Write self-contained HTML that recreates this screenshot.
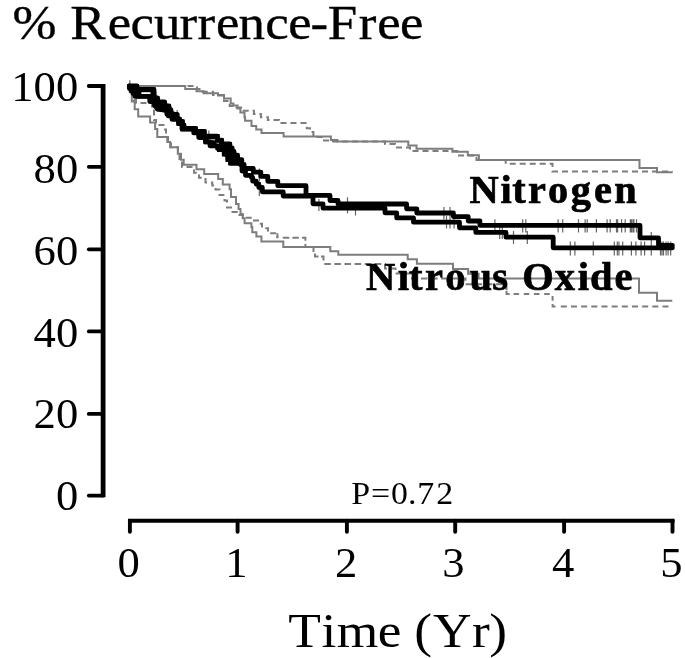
<!DOCTYPE html>
<html><head><meta charset="utf-8"><style>
html,body{margin:0;padding:0;background:#fff;}
svg{filter:grayscale(100%);}
body{width:685px;height:658px;overflow:hidden;}
svg{display:block;}
text{font-family:"Liberation Serif",serif;fill:#000;}
</style></head><body>
<svg width="685" height="658" viewBox="0 0 685 658">
<!-- title -->
<text transform="scale(1.0789,1)" x="11.57 65.19 99.83 120.89 142.63 166.47 182.97 200.12 220.98 245.88 267.18 287.76 303.86 332.47 349.62 370.75" y="39.0" font-size="49" stroke="#000" stroke-width="0.35">%Recurrence-Free</text>
<!-- y labels -->
<g font-size="42.5" text-anchor="end" transform="translate(78.2,0) scale(1.05,1)">
<text x="0" y="100.7">100</text>
<text x="0" y="182.6">80</text>
<text x="0" y="265.2">60</text>
<text x="0" y="346.8">40</text>
<text x="0" y="428.5">20</text>
<text x="0" y="510.4">0</text>
</g>
<!-- x labels -->
<g font-size="42.5" text-anchor="middle">
<text transform="translate(128.6,0) scale(1.05,1)" x="0" y="577.4">0</text>
<text transform="translate(236.5,0) scale(1.05,1)" x="0" y="577.4">1</text>
<text transform="translate(346.2,0) scale(1.05,1)" x="0" y="577.4">2</text>
<text transform="translate(453.5,0) scale(1.05,1)" x="0" y="577.4">3</text>
<text transform="translate(563.2,0) scale(1.05,1)" x="0" y="577.4">4</text>
<text transform="translate(671.4,0) scale(1.05,1)" x="0" y="577.4">5</text>
</g>
<text transform="scale(1.0900,1)" x="264.54 294.88 308.98 346.54 380.08 397.28 432.94 448.87" y="647.0" font-size="49">Time(Yr)</text>
<text transform="scale(1.0927,1)" x="321.39 339.52 357.87 373.46 381.83 399.27" y="504" font-size="31">P=0.72</text>
<!-- axes -->
<g stroke="#000" fill="none">
<path d="M103.1,84.1 V497.3" stroke-width="4.8"/>
<path d="M88.8,86 H103" stroke-width="3.8" stroke-linecap="round"/>
<path d="M88.8,166.8 H103" stroke-width="3.8" stroke-linecap="round"/>
<path d="M88.8,249.3 H103" stroke-width="3.8" stroke-linecap="round"/>
<path d="M88.8,331.4 H103" stroke-width="3.8" stroke-linecap="round"/>
<path d="M88.8,413.9 H103" stroke-width="3.8" stroke-linecap="round"/>
<path d="M88.8,495.6 H103" stroke-width="3.8" stroke-linecap="round"/>
<path d="M128,520.75 H674.6" stroke-width="4.1"/>
<path d="M129.9,520.8 V531.8" stroke-width="3.9" stroke-linecap="round"/>
<path d="M237.6,520.8 V531.8" stroke-width="3.9" stroke-linecap="round"/>
<path d="M346.9,520.8 V531.8" stroke-width="3.9" stroke-linecap="round"/>
<path d="M455.2,520.8 V531.8" stroke-width="3.9" stroke-linecap="round"/>
<path d="M564.1,520.8 V531.8" stroke-width="3.9" stroke-linecap="round"/>
<path d="M672.5,520.8 V531.8" stroke-width="3.9" stroke-linecap="round"/>
</g>
<!-- gray CIs -->
<g stroke="#7d7d7d" stroke-width="2" fill="none">
<path id="gus" d="M127.5,86 H185.2 V89 H196.5 V91.2 H203.6 V93.3 H218 V95.5 H224 V98.4 H230.7 V103.5 H233.4 V105.5 H237.5 V108.4 H240.4 V112.5 H244.5 V117.2 H245.1 V120.7 H251.5 V126 H256.2 V129.5 H261.5 V133 H283.6 V136.6 H330.9 V139.9 H337.4 V141.4 H408.3 V145.5 H416.5 V148.7 H452.4 V151.7 H467.8 V155.2 H478.9 V159.9 H639.5 V168 H657 V172.3 H672.5"/>
<path id="gls" d="M127.5,86 H129.5 V90 H131.8 V101.5 H134.7 V109.3 H138.2 V116.4 H150.1 V122.4 H155.1 V129.1 H157.3 V136.9 H167.3 V141.9 H170.1 V147.3 H177.8 V153.7 H181 V159.7 H183.7 V164.7 H196.5 V169.2 H204.2 V174.1 H218.2 V179.1 H222.8 V184.6 H229.6 V189.2 H231 V196.9 H236 V204 H238.6 V209.1 H240.5 V214.1 H242.7 V218.2 H244.6 V223.2 H251.4 V226.9 H252.3 V232.3 H256.4 V236.4 H261.4 V241.5 H283.3 V246.9 H330.3 V251.3 H338.3 V254.8 H407.7 V259.2 H416.9 V263.8 H453 V269 H468.1 V273.8 H478.6 V278.4 H639 V292.8 H657 V300.8 H672.3"/>
</g>
<g stroke="#7d7d7d" stroke-width="2" fill="none" stroke-dasharray="6 4">
<path id="gud" d="M127.5,86 H197 V89 H202.6 V91.7 H213 V95 H224 V101 H229.7 V106 H236.3 V107.4 H242.4 V110.8 H253.9 V114 H260.9 V117.2 H267.9 V120 H279 V123 H306.8 V128.2 H310 V131.9 H313.4 V137 H323 V140.5 H332 V141.4 H385 V144 H395 V147.5 H410 V151 H457 V155.5 H476.5 V159.9 H505.7 V163.8 H552.5 V171.5 H672.5"/>
<path id="gld" d="M127.5,86 H129 V92 H133.6 V100 H136 V103 H152 V110.5 H154 V120 H156 V125 H163.5 V129.5 H166 V137 H168 V142 H171 V147.3 H178 V153.7 H179.5 V160.5 H182 V167 H194 V172.7 H199 V177.7 H205.5 V182.5 H212.3 V185.5 H215.5 V189.6 H219.5 V195.1 H224.5 V200.5 H227 V207.5 H231 V212 H237 V215 H243 V217.8 H252 V220.5 H258 V223.7 H262 V228.2 H268 V233.3 H277.4 V237.8"/>
<path d="M282.8,237.8 H305.4 V246.9 H313.5 V251 H315 V256.5 H321" stroke-dasharray="6.4 3.2"/>
<path d="M324.3,264 H385 V268.5 H395.5 V273.5 H412 V278.4 H465.5 V284.3 H506.5 V290.5" stroke-dasharray="6.5 3.6"/>
<path d="M513.6,294 H552.7" stroke-dasharray="5.5 4.7"/>
<path d="M560.8,306.5 H669" stroke-dasharray="6 4.17"/>
</g>
<g stroke="#7d7d7d" stroke-width="2" fill="none">
<path d="M277.4,233.3 V238.3 M321,256.5 H323.5 V260.5 M506.5,290.9 V294 H509.6 M552.6,296.1 V300.8 M552.6,304 V306.5 H555.5"/>
</g>
<!-- censor ticks -->
<g stroke="#666" stroke-width="1.2" fill="none">
<path d="M443.9,207.0 V219.5 M450.0,207.0 V219.5 M446.5,216.0 V228.5 M450.0,216.0 V228.5 M454.1,216.0 V228.5 M494.9,219.3 V232.6 M522.7,219.3 V232.6 M525.8,219.3 V232.6 M558.1,219.3 V232.6 M562.7,219.3 V232.6 M578.5,219.3 V232.6 M585.1,219.3 V232.6 M587.2,219.3 V232.6 M596.4,219.3 V232.6 M607.1,219.3 V232.6 M610.2,219.3 V232.6 M616.5,219.3 V232.6 M617.6,219.3 V232.6 M621.6,219.3 V232.6 M625.2,219.3 V232.6 M630.3,219.3 V232.6 M631.4,219.3 V232.6 M632.9,219.3 V232.6 M633.9,219.3 V232.6 M636.5,219.3 V232.6 M651.3,232.0 V245.0 M499.7,226.0 V239.0 M502.3,226.0 V239.0 M513.5,231.0 V244.0 M527.3,231.0 V244.0 M570.3,241.5 V255.5 M574.9,241.5 V255.5 M593.3,241.5 V255.5 M614.3,241.5 V255.5 M617.3,241.5 V255.5 M618.9,241.5 V255.5 M622.7,241.5 V255.5 M631.4,241.5 V255.5 M635.9,241.5 V255.5 M641.1,241.5 V255.5 M644.6,241.5 V255.5 M651.3,241.5 V255.5 M660.5,241.5 V255.5 M662.0,241.5 V255.5 M663.5,241.5 V255.5 M666.1,241.5 V255.5 M668.1,241.5 V255.5 M670.7,241.5 V255.5 M318.9,199.0 V211.0 M347.5,197.3 V213.4 M355.5,209.0 V215.5 M259.3,168.5 V181.0 M259.3,186.0 V196.0 M208.9,130.5 V134.0 M177.1,110.0 V114.0 M129.8,80.2 V84.5"/>
</g>
<!-- black KM curves -->
<polygon fill="#000" points="127.2,84.2 138.9,84.2 138.9,87.5 155.8,87.5 156.5,95.9 159.5,96.6 160.2,99.9 166.4,100.6 167.5,103.9 170.8,105.4 173.0,111.2 178.1,112.7 179.4,112.9 179.4,117.3 181.6,117.3 181.6,119.5 184.5,119.5 184.5,123.1 186.0,123.1 186.0,126.4 197.8,126.4 197.8,129.6 206.4,129.6 206.4,134.1 219.5,134.1 219.5,138.2 223.8,138.2 223.8,142.0 231.7,142.0 231.7,145.5 234.4,149.5 236.2,153.5 239.8,158 243,162.5 243,163.0 240.0,167.0 237.6,165.5 228.2,165.5 228.2,161.9 225.5,161.9 225.5,156.4 221.9,156.4 221.9,151.9 217.0,151.9 217.0,148.1 211.0,148.1 211.0,144.3 203.4,144.3 203.4,139.0 196.7,139.0 196.7,134.8 191.8,134.8 191.8,131.2 180.1,131.2 180.1,125.7 176.5,125.7 176.5,121.0 175.0,121.0 170.1,117.8 166.4,116.3 164.9,112.7 156.9,111.2 155.4,109.7 153.2,107.5 152.5,103.2 148.1,101.7 147.8,98.4 136.0,98.4 127.0,84.0"/>
<g fill="#fff"><rect x="141.4" y="92.2" width="9.1" height="2.2"/><rect x="208.7" y="139.2" width="6.8" height="1.1" fill="#ccc"/><rect x="216.3" y="142.7" width="3" height="1.2" fill="#ccc"/></g>
<g stroke="#000" stroke-width="4.8" fill="none" stroke-linejoin="round" stroke-linecap="round">
<path id="U" d="M129.4,86 H137 V89.5 H154 V98 H157.5 V102 H164.5 V106 H169 V110 H171 V114.5 H177 V119 H179.5 V121.5 H182.5 V125 H184 V128.4 H195.6 V131.3 H204.4 V136.1 H217.5 V140.2 H221.7 V143.9 H229.9 V148 H232.2 V151.5 H234 V155.2 H237.6 V159.7 H241.8 V164.3 H244.1 V168.5 H253.3 V172.1 H260.8 V176.4 H267.8 V181.3 H277.8 V185.7 H306 V195.3 H330 V200.5 H338 V204 H406.6 V208.8 H416.8 V213 H453.4 V216.6 H468.2 V221 H479.9 V225.3 H640 V237.8 H658.5 V245.3 H672.4"/>
<path id="L" d="M129.4,86 V88.5 H131 V91 H133 V93.5 H135 V96.4 H149.8 V101.5 H154.5 V105.5 H157.4 V109.2 H166.9 V114.3 H168 V115.8 H172 V119.3 H178.5 V123.7 H182 V129.2 H193.8 V132.8 H198.9 V137.6 H205.5 V141.9 H210 V145.8 H217.5 V148.5 H224.3 V154 H227.9 V159.5 H230.6 V163.1 H239.3 H242 V171 H245.5 V175.3 H251.5 V177.7 H252.7 V181.2 H256.2 V184 H258.8 V187.4 H262.3 V191.8 H283.2 V196 H313 V203.8 H323 V208.2 H385 V212.8 H396.7 V217.9 H413.5 V222.2 H459.5 V227.8 H475.8 V232.4 H506 V237.2 H553.2 V247.8 H672.4"/>
</g>
<!-- legend labels -->
<text transform="scale(1.0352,1)" x="453.51 483.50 494.74 510.06 529.40 551.35 573.76 593.42" y="202.8" font-size="39" font-weight="bold" stroke="#000" stroke-width="0.7">Nitrogen</text>
<text transform="scale(1.0379,1)" x="352.68 383.24 394.01 409.43 429.10 452.32 474.21 503.21 534.56 556.56 568.51 592.08" y="289.8" font-size="39" font-weight="bold" stroke="#000" stroke-width="0.7">NitrousOxide</text>
</svg>
</body></html>
